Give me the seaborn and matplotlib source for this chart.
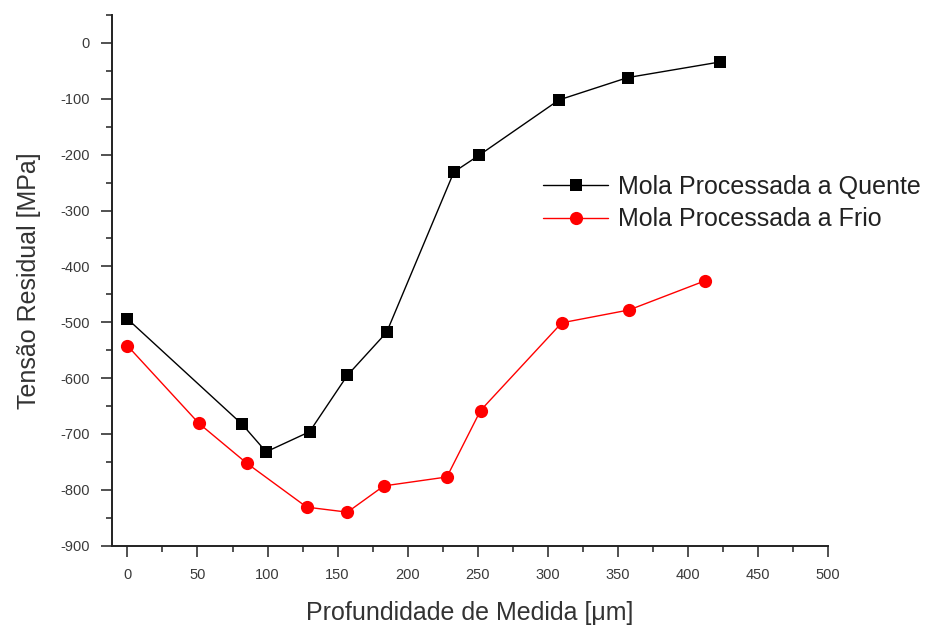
import pandas as pd
import matplotlib.pyplot as plt
import seaborn as sns
from matplotlib.ticker import MultipleLocator

# Data
depth_hot = [0, 82, 99, 130, 157, 185, 233, 251, 308, 357, 423]
stress_hot = [-494, -683, -732, -696, -595, -518, -231, -201, -102, -62, -34]

depth_cold = [0, 51, 85, 128, 157, 183, 228, 252, 310, 358, 412]
stress_cold = [-542, -681, -752, -831, -840, -793, -777, -658, -501, -478, -426]

label_hot = "Mola Processada a Quente"
label_cold = "Mola Processada a Frio"

df_hot = pd.DataFrame({"depth": depth_hot, "stress": stress_hot})
df_cold = pd.DataFrame({"depth": depth_cold, "stress": stress_cold})

sns.set_style("ticks")
plt.rcParams["font.family"] = ["Liberation Sans", "DejaVu Sans"]
plt.rcParams["axes.unicode_minus"] = False

fig = plt.figure(figsize=(9.42, 6.26), dpi=100)
ax = fig.add_axes([0.1189, 0.1283, 0.879 - 0.1189, 0.976 - 0.1283])

sns.lineplot(data=df_hot, x="depth", y="stress", ax=ax, color="black",
             marker="s", markersize=9, markeredgewidth=0, linewidth=1,
             label=label_hot, estimator=None)
sns.lineplot(data=df_cold, x="depth", y="stress", ax=ax, color="red",
             marker="o", markersize=9.5, markeredgewidth=0, linewidth=1,
             label=label_cold, estimator=None)

ax.set_xlim(-11, 500)
ax.set_ylim(-900, 50)
ax.xaxis.set_major_locator(MultipleLocator(50))
ax.xaxis.set_minor_locator(MultipleLocator(25))
ax.yaxis.set_major_locator(MultipleLocator(100))
ax.yaxis.set_minor_locator(MultipleLocator(50))

for side in ["top", "right"]:
    ax.spines[side].set_visible(False)
for side in ["left", "bottom"]:
    ax.spines[side].set_linewidth(1.4)
    ax.spines[side].set_color("#222222")

ax.tick_params(which="major", length=8, width=1.1, color="#222222",
               labelsize=10.5, labelcolor="#3a3a3a", pad=8)
ax.tick_params(which="minor", length=4.5, width=1.1, color="#222222")

ax.set_xlabel("Profundidade de Medida [μm]", fontsize=18, color="#333333", labelpad=14)
ax.set_ylabel("Tensão Residual [MPa]", fontsize=18, color="#333333", labelpad=14)

ax.legend(loc="upper left", bbox_to_anchor=(543 / 942, 1 - 175 / 626),
          bbox_transform=fig.transFigure, frameon=False, fontsize=18,
          handlelength=2.6, handletextpad=0.4, labelspacing=0.33,
          borderpad=0, borderaxespad=0, labelcolor="#222222")

fig.savefig("out.png", dpi=100)
